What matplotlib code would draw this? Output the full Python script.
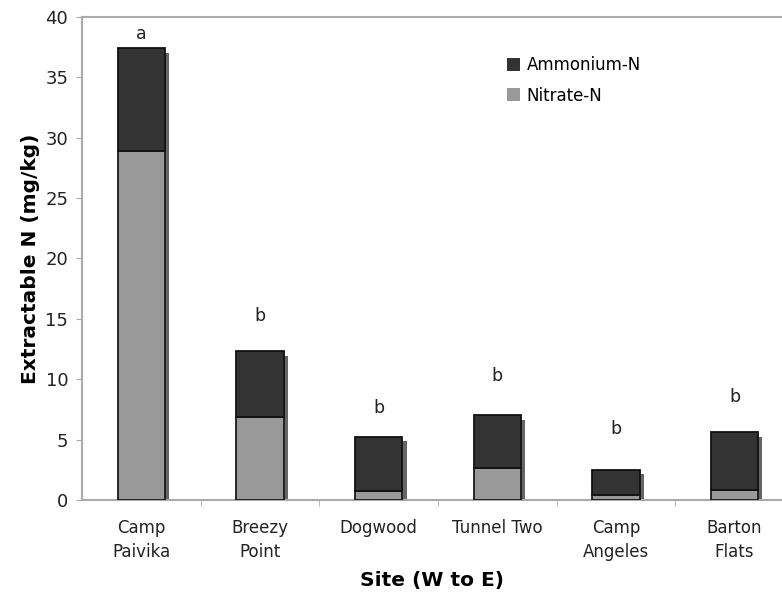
import matplotlib
matplotlib.use("Agg")
import matplotlib.pyplot as plt
import matplotlib.patheffects as pe
import numpy as np

sites = ["Camp\nPaivika", "Breezy\nPoint", "Dogwood", "Tunnel Two", "Camp\nAngeles", "Barton\nFlats"]
nitrate = [28.9, 6.9, 0.75, 2.65, 0.4, 0.85]
total = [37.4, 12.3, 5.2, 7.0, 2.5, 5.6]
ammonium = [t - n for t, n in zip(total, nitrate)]
letters = ["a", "b", "b", "b", "b", "b"]
letter_y = [38.6, 15.2, 7.6, 10.3, 5.9, 8.5]

plt.rcParams['font.family'] = 'DejaVu Sans'

fig = plt.figure(figsize=(7.82, 6.0), dpi=100)
ax = fig.add_axes([0.105, 0.1667, 0.895, 0.805])

x = np.arange(len(sites))

# drop shadow behind each stacked bar (only the shadow is drawn)
shadows = ax.bar(x, total, width=0.4, color="#555555", linewidth=0, zorder=2)
for p in shadows:
    p.set_path_effects([pe.SimplePatchShadow(offset=(3, -3), shadow_rgbFace="#555555", alpha=0.9)])

ax.bar(x, nitrate, width=0.4, color="#999999", edgecolor="#1a1a1a", linewidth=1.3,
       label="Nitrate-N", zorder=3)
ax.bar(x, ammonium, width=0.4, bottom=nitrate, color="#333333", edgecolor="#111111",
       linewidth=1.3, label="Ammonium-N", zorder=3)

for xi, lt, ly in zip(x, letters, letter_y):
    ax.text(xi, ly, lt, ha="center", va="center", fontsize=12.5, color="#222222")

ax.set_xlim(-0.5, 5.4)
ax.set_ylim(0, 40)
ax.set_yticks(np.arange(0, 41, 5))
ax.set_xticks(x)
ax.set_xticklabels(sites, fontsize=12, color="#222222", linespacing=1.4)
ax.set_xticks(np.arange(0.5, 5.5, 1), minor=True)
ax.tick_params(axis="x", which="major", length=0, pad=14)
ax.tick_params(axis="x", which="minor", length=4, color="#aaaaaa")
ax.tick_params(axis="y", length=4, color="#aaaaaa", labelsize=13, labelcolor="#222222", pad=6)

for s in ["left", "top", "bottom"]:
    ax.spines[s].set_color("#aaaaaa")
    ax.spines[s].set_linewidth(1.5)
ax.spines["right"].set_visible(False)

ax.set_xlabel("Site (W to E)", fontsize=14.5, fontweight="bold", labelpad=7)
ax.set_ylabel("Extractable N (mg/kg)", fontsize=14.5, fontweight="bold", labelpad=4)

h, l = ax.get_legend_handles_labels()
leg = ax.legend(h[::-1], l[::-1], loc="upper left", bbox_to_anchor=(0.585, 0.95), frameon=False,
                fontsize=12, handlelength=0.8, handleheight=0.8, handletextpad=0.4, labelspacing=0.75)
for hp in leg.legend_handles:
    hp.set_edgecolor("none")

fig.savefig("out.png", dpi=100)
